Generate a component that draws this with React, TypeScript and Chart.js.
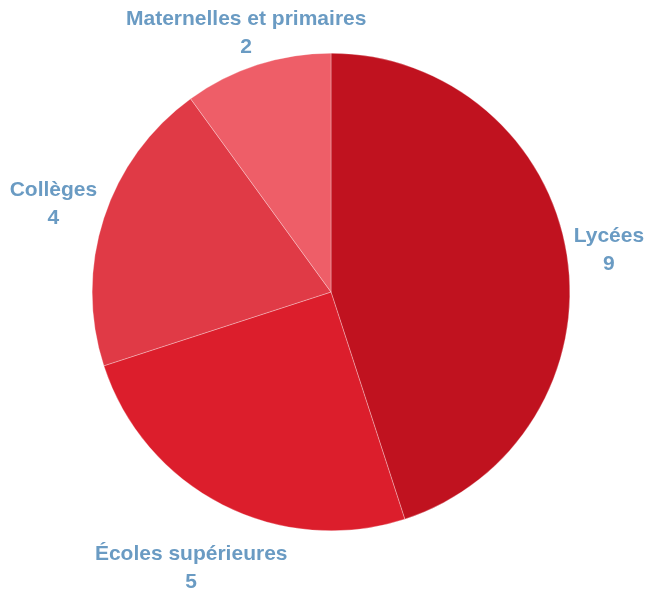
import React, { useEffect, useRef } from "react";
import { Chart, registerables } from "chart.js";

Chart.register(...registerables);

const categories: string[] = ["Lycées", "Écoles supérieures", "Collèges", "Maternelles et primaires"];
const values: number[] = [9, 5, 4, 2];
const sliceColors: string[] = ["#c0121f", "#dc1e2c", "#e03a46", "#ee5e68"];
const labelColor = "#6a9bc3";
const labelFont = 'bold 21px "Liberation Sans", Arial, sans-serif';

const outsideLabels = {
  id: "outsideLabels",
  afterDatasetsDraw(chart: any) {
    const ctx = chart.ctx as CanvasRenderingContext2D;
    const meta = chart.getDatasetMeta(0);
    const W = chart.width;
    const H = chart.height;
    const lineGap = 28;
    const hh = 24;
    const off = 4;
    const marginTop = 7;
    const nudge = 2;
    ctx.save();
    ctx.font = labelFont;
    ctx.fillStyle = labelColor;
    ctx.textAlign = "center";
    ctx.textBaseline = "middle";
    meta.data.forEach((arc: any, i: number) => {
      const p = arc.getProps(["x", "y", "startAngle", "endAngle", "outerRadius"], true);
      const mid = (p.startAngle + p.endAngle) / 2;
      const dx = Math.cos(mid);
      const dy = Math.sin(mid);
      const line1 = categories[i];
      const line2 = String(values[i]);
      const hw = Math.max(ctx.measureText(line1).width, ctx.measureText(line2).width) / 2;
      let r = p.outerRadius + off + Math.abs(dx) * hw + Math.abs(dy) * hh;
      let cy = p.y + dy * r;
      if (cy - hh < marginTop && dy < 0) {
        r = (p.y - (marginTop + hh)) / -dy;
      } else if (cy + hh > H && dy > 0) {
        r = (H - hh - p.y) / dy;
      }
      let cx = p.x + dx * r;
      cy = p.y + dy * r;
      if (cx + hw > W) cx = W - hw;
      if (cx - hw < 0) cx = hw;
      ctx.fillText(line1, cx, cy - lineGap / 2 + nudge);
      ctx.fillText(line2, cx, cy + lineGap / 2 + nudge);
    });
    ctx.restore();
  },
};

export default function App() {
  const canvasRef = useRef<HTMLCanvasElement | null>(null);

  useEffect(() => {
    if (!canvasRef.current) return;
    const chart = new Chart(canvasRef.current, {
      type: "pie",
      data: {
        labels: categories,
        datasets: [
          {
            data: values,
            backgroundColor: sliceColors,
            borderColor: "#ffffff",
            borderWidth: 0.3,
            hoverOffset: 0,
            offset: 0,
          },
        ],
      },
      options: {
        animation: false,
        responsive: true,
        maintainAspectRatio: false,
        events: [],
        layout: { padding: { left: 92, top: 53, right: 78, bottom: 60 } },
        plugins: {
          legend: { display: false },
          tooltip: { enabled: false },
        },
      },
      plugins: [outsideLabels],
    });
    return () => chart.destroy();
  }, []);

  return (
    <div style={{ position: "fixed", left: 0, top: 0, width: 648, height: 591, background: "#ffffff" }}>
      <canvas ref={canvasRef} />
    </div>
  );
}
